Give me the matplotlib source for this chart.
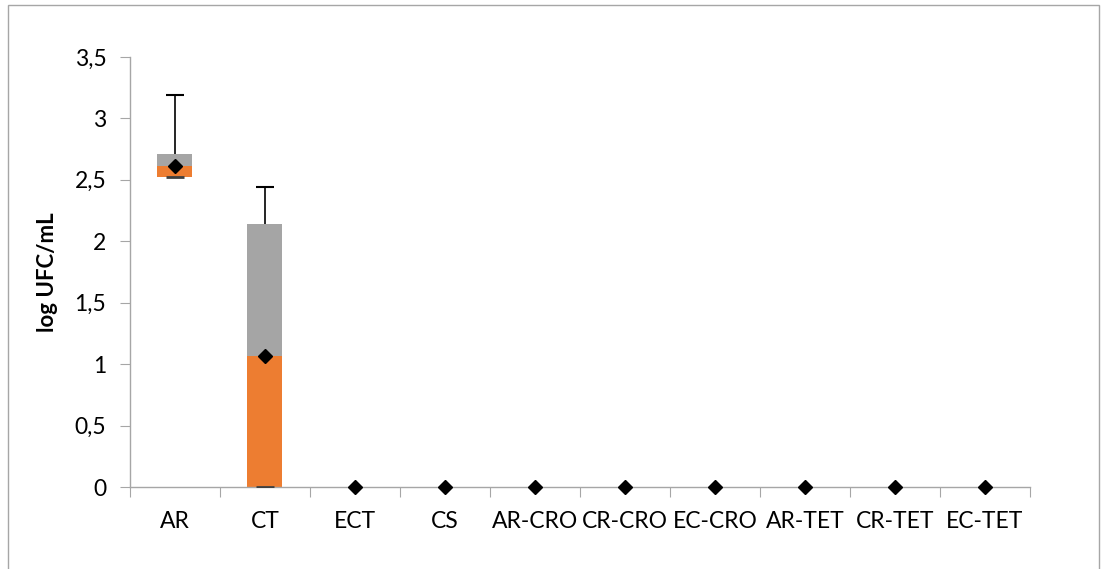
import numpy as np
import matplotlib.pyplot as plt
from matplotlib.patches import Rectangle

plt.rcParams['font.family'] = ['Lato', 'DejaVu Sans']

groups = ["AR", "CT", "ECT", "CS", "AR-CRO", "CR-CRO", "EC-CRO", "AR-TET", "CR-TET", "EC-TET"]
q1 = [2.52, 0.0, 0, 0, 0, 0, 0, 0, 0, 0]
median = [2.61, 1.07, 0, 0, 0, 0, 0, 0, 0, 0]
q3 = [2.71, 2.14, 0, 0, 0, 0, 0, 0, 0, 0]
whisk_hi = [3.19, 2.44, 0, 0, 0, 0, 0, 0, 0, 0]
mean = [2.61, 1.07, 0, 0, 0, 0, 0, 0, 0, 0]

x = np.arange(len(groups))
q1 = np.array(q1); median = np.array(median); q3 = np.array(q3)
whisk_hi = np.array(whisk_hi); mean = np.array(mean)

fig = plt.figure(figsize=(11.01, 5.69), dpi=100)
ax = fig.add_axes([0.118, 0.144, 0.8175, 0.756])

# box halves: lower quartile -> median (orange), median -> upper quartile (grey)
ax.bar(x, median - q1, bottom=q1, width=0.39, color="#ED7D31", zorder=2)
ax.bar(x, q3 - median, bottom=median, width=0.39, color="#A5A5A5", zorder=2)

# whiskers only where there is spread: stem from the box top, cap at the end
has = q3 > 0
ax.vlines(x[has], q3[has], whisk_hi[has], color="black", linewidth=1.2, zorder=3)
ax.plot(x[has], whisk_hi[has], linestyle="none", marker="_", markersize=13,
        markeredgewidth=1.5, color="black", zorder=3)
ax.plot(x[has], q1[has], linestyle="none", marker="_", markersize=13,
        markeredgewidth=2, color="#404040", zorder=3)

ax.plot(x, mean, linestyle="none", marker="D", markersize=7.5, color="black", zorder=4, clip_on=False)

ax.set_xlim(-0.5, len(groups) - 0.5)
ax.set_ylim(0, 3.5)
yt = np.arange(0, 3.51, 0.5)
ax.set_yticks(yt)
ax.set_yticklabels([("%g" % v).replace(".", ",") for v in yt], fontsize=16.5)
ax.set_xticks(np.arange(-0.5, len(groups), 1.0))
ax.set_xticklabels([])
ax.set_xticks(x, minor=True)
ax.set_xticklabels(groups, minor=True, fontsize=16.5)
ax.tick_params(axis="x", which="minor", length=0, pad=17)
ax.tick_params(axis="x", which="major", length=7, color="#A6A6A6", direction="out")
ax.tick_params(axis="y", length=7, color="#A6A6A6", direction="out", pad=10)

for s in ["top", "right"]:
    ax.spines[s].set_visible(False)
for s in ["left", "bottom"]:
    ax.spines[s].set_color("#A6A6A6")
    ax.spines[s].set_linewidth(1)

ax.set_ylabel("log UFC/mL", fontsize=16, fontweight="bold", labelpad=12)

# chart area frame
fig.patches.append(Rectangle((0.007, -0.02), 0.991, 1.011, transform=fig.transFigure,
                             fill=False, edgecolor="#A6A6A6", linewidth=1))

fig.savefig("out.png", dpi=100)
